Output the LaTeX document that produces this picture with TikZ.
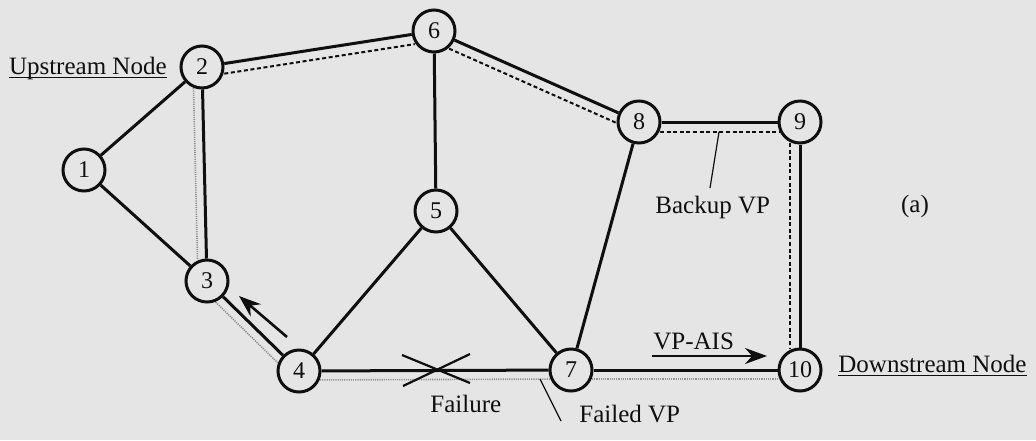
\documentclass[tikz,border=0pt]{standalone}
\usepackage{fontspec}
\setmainfont{Liberation Serif}
\usetikzlibrary{calc,arrows.meta}
\definecolor{paper}{RGB}{229,229,229}
\definecolor{ink}{RGB}{15,15,15}
\tikzset{
  vnode/.style={circle,draw=ink,line width=1.5pt,minimum size=21pt,inner sep=0pt,
    font=\fontsize{12}{14}\selectfont,text=ink},
  lbl/.style={font=\fontsize{12.5}{15}\selectfont,text=ink,inner sep=0pt},
  link/.style={draw=ink,line width=1.5pt},
  backup/.style={draw=ink,line width=1pt,dash pattern=on 2pt off 1.3pt,
    shorten <=10.5pt,shorten >=10.5pt},
  failed/.style={draw=gray!85,line width=0.8pt,dash pattern=on 0.6pt off 0.5pt,
    shorten <=10.5pt,shorten >=10.5pt},
  leader/.style={draw=ink,line width=0.6pt},
  msg/.style={draw=ink,line width=1.3pt,-{Stealth[length=11pt,width=8pt]}},
}
\begin{document}
\begin{tikzpicture}[x=0.5pt,y=-0.5pt]
\fill[paper] (0,0) rectangle (1036,440);
\useasboundingbox (0,0) rectangle (1036,440);
% switches
\foreach \n/\x/\y in {1/84/170,2/202/67,3/207/281,4/299/371,5/436/211,
    6/434/31,7/571/370,8/639/122,9/800/122,10/800/370}{
  \node[vnode] (n\n) at (\x,\y) {\n};
}
% physical links
\foreach \a/\b in {1/2,1/3,2/3,2/6,6/5,6/8,5/4,5/7,3/4,4/7,7/10,7/8,8/9,9/10}{
  \draw[link] (n\a) -- (n\b);
}
% backup VP
\foreach \a/\b in {2/6,6/8,8/9,9/10}{
  \draw[backup] ($(n\a)!5pt!-90:(n\b)$) -- ($(n\b)!5pt!90:(n\a)$);
}
% failed VP
\foreach \a/\b in {2/3,3/4,4/7,7/10}{
  \draw[failed] ($(n\a)!4.5pt!-90:(n\b)$) -- ($(n\b)!4.5pt!90:(n\a)$);
}
% failure mark
\coordinate (fail) at (436,370);
\draw[ink,line width=1.1pt] (fail) ++(-34,-15) -- ++(68,28);
\draw[ink,line width=1.1pt] (fail) ++(34,-16) -- ++(-67,32);
% labels
\node[lbl,anchor=base east] (up) at (167,74) {Upstream Node};
\node[lbl,anchor=base west] (down) at (838,372) {Downstream Node};
\draw[ink,line width=0.7pt] ([yshift=-1.8pt]up.base west) -- ([yshift=-1.8pt]up.base east);
\draw[ink,line width=0.7pt] ([yshift=-1.6pt]down.base west) -- ([yshift=-1.6pt]down.base east);
\node[lbl,anchor=base west] (failure) at (430,412) {Failure};
\node[lbl,anchor=base west] (fvp) at (579,422) {Failed VP};
\node[lbl,anchor=base west] (bvp) at (655,213) {Backup VP};
\node[lbl,anchor=base west] (ais) at (653,349) {VP-AIS};
\node[lbl] (tag) at (915,206) {(a)};
% leaders
\coordinate (bvp0) at (719,132);
\coordinate (bvp1) at (710,188);
\draw[leader] (bvp0) -- (bvp1);
\coordinate (fvp0) at (540,379);
\coordinate (fvp1) at (561,421);
\draw[leader] (fvp0) -- (fvp1);
% OAM cells
\coordinate (ais0) at (652,356);
\coordinate (ais1) at (767,356);
\draw[msg] (ais0) -- (ais1);
\coordinate (back0) at (287,337);
\coordinate (back1) at (239,296);
\draw[msg] (back0) -- (back1);
\end{tikzpicture}
\end{document}
